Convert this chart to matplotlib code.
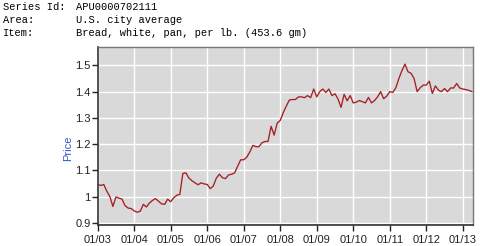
import matplotlib
matplotlib.use('Agg')
import matplotlib.pyplot as plt
import numpy as np

# monthly average price, Jan 2003 .. Apr 2013
price = [
    1.046, 1.042, 1.046, 1.020, 1.000, 0.962, 0.998, 0.994, 0.990, 0.965, 0.956, 0.954,  # 2003
    0.945, 0.940, 0.944, 0.970, 0.960, 0.975, 0.985, 0.992, 0.982, 0.972, 0.970, 0.990,  # 2004
    0.980, 0.995, 1.005, 1.008, 1.088, 1.090, 1.070, 1.060, 1.052, 1.045, 1.052, 1.048,  # 2005
    1.046, 1.030, 1.040, 1.070, 1.085, 1.072, 1.068, 1.082, 1.085, 1.090, 1.115, 1.140,  # 2006
    1.140, 1.150, 1.170, 1.195, 1.190, 1.190, 1.205, 1.210, 1.210, 1.268, 1.234, 1.280,  # 2007
    1.290, 1.320, 1.345, 1.368, 1.370, 1.370, 1.380, 1.380, 1.377, 1.385, 1.377, 1.410,  # 2008
    1.380, 1.400, 1.410, 1.397, 1.410, 1.385, 1.392, 1.372, 1.340, 1.390, 1.365, 1.385,  # 2009
    1.357, 1.360, 1.366, 1.362, 1.357, 1.378, 1.357, 1.366, 1.380, 1.400, 1.373, 1.383,  # 2010
    1.400, 1.397, 1.415, 1.450, 1.480, 1.505, 1.476, 1.470, 1.450, 1.400, 1.415, 1.425,  # 2011
    1.425, 1.440, 1.393, 1.422, 1.406, 1.400, 1.412, 1.400, 1.414, 1.414, 1.431, 1.414,  # 2012
    1.410, 1.408, 1.405, 1.400,                                                          # 2013
]
tick_labels = ['01/03', '01/04', '01/05', '01/06', '01/07', '01/08',
               '01/09', '01/10', '01/11', '01/12', '01/13']
y_ticks = [0.9, 1.0, 1.1, 1.2, 1.3, 1.4, 1.5]
y_tick_labels = ['0.9', '1', '1.1', '1.2', '1.3', '1.4', '1.5']

header = [('Series Id:', 'APU0000702111'),
          ('Area:', 'U.S. city average'),
          ('Item:', 'Bread, white, pan, per lb. (453.6 gm)')]

months = np.arange(len(price))

fig = plt.figure(figsize=(4.8, 2.46), dpi=100)
ax = fig.add_axes([0.2035, 0.084, 0.7815, 0.7235])

ax.plot(months, price, color='#a41e24', lw=0.95)

ax.set_facecolor('#d9d9d9')
ax.set_xlim(0, 123.3)
ax.set_ylim(0.89, 1.569)
ax.set_xticks(np.arange(0, 121, 12))
ax.set_xticklabels(tick_labels)
ax.set_yticks(y_ticks)
ax.set_yticklabels(y_tick_labels)
ax.grid(True, color='white', lw=1.0)
ax.set_axisbelow(True)
ax.tick_params(direction='out', length=4, width=1, labelsize=8,
               colors='#222222')
ax.tick_params(axis='x', pad=3)
ax.tick_params(axis='y', pad=1)
for lbl in ax.get_xticklabels() + ax.get_yticklabels():
    lbl.set_family('Liberation Sans')

for s in ['left', 'bottom']:
    ax.spines[s].set_color('#333333')
    ax.spines[s].set_linewidth(1.2)
for s in ['top', 'right']:
    ax.spines[s].set_color('#777777')
    ax.spines[s].set_linewidth(1.0)

fig.text(68 / 480, 1 - 148 / 246, 'Price', rotation=90, color='#3355cc',
         fontsize=8, family='Liberation Sans', ha='center', va='center')

for i, (k, v) in enumerate(header):
    y = 1 - (7.5 + 12.8 * i) / 246
    fig.text(3 / 480, y, k, fontsize=7.5, family='Liberation Mono',
             va='center', ha='left', color='black')
    fig.text(76 / 480, y, v, fontsize=7.5, family='Liberation Mono',
             va='center', ha='left', color='black')

fig.savefig('out.png', dpi=100)
